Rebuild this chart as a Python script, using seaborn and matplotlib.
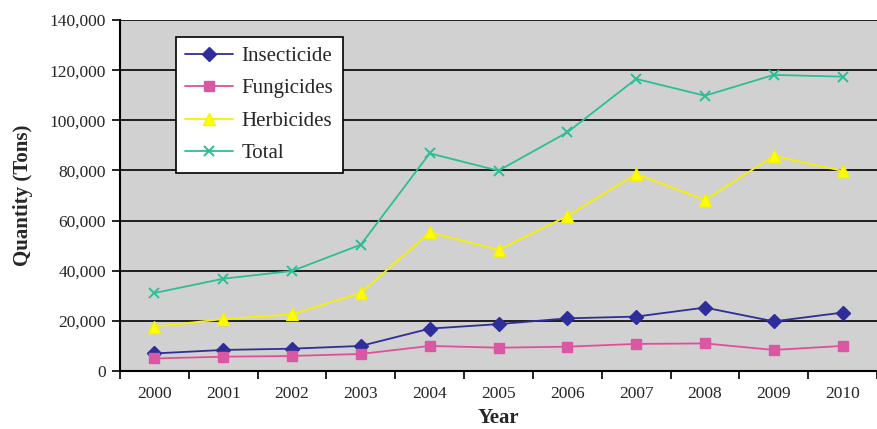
import matplotlib
matplotlib.use("Agg")
import matplotlib.pyplot as plt
from matplotlib.ticker import FuncFormatter, FixedLocator
import numpy as np
import pandas as pd
import seaborn as sns

# Pesticide imports by type, 2000-2010 (tons)
years = ["2000", "2001", "2002", "2003", "2004", "2005",
         "2006", "2007", "2008", "2009", "2010"]
insecticide = [7000, 8400, 8900, 10000, 16900, 18700, 21000, 21700, 25300, 19800, 23300]
fungicides = [5000, 5700, 6000, 6800, 10000, 9300, 9700, 10800, 11000, 8400, 10000]
herbicides = [17700, 20700, 22600, 31200, 55300, 48300, 61800, 78600, 68200, 85800, 79800]
total = [31100, 36800, 39900, 50400, 86800, 79900, 95200, 116500, 109800, 118100, 117400]

series_names = ["Insecticide", "Fungicides", "Herbicides", "Total"]
series_values = [insecticide, fungicides, herbicides, total]

df = pd.DataFrame({
    "pos": np.tile(np.arange(len(years)), len(series_names)),
    "year": years * len(series_names),
    "series": np.repeat(series_names, len(years)),
    "value": np.concatenate(series_values),
})

sns.set_style("white")
plt.rcParams["font.family"] = ["Liberation Serif", "DejaVu Serif"]

styles = {
    "Insecticide": dict(color="#2E2E9A", marker="D", ms=7, mfc="#2E2E9A", mec="#2E2E9A", mew=1.0),
    "Fungicides": dict(color="#E0509A", marker="s", ms=6.5, mfc="#D957A3", mec="#D957A3", mew=1.0),
    "Herbicides": dict(color="#F7F200", marker="^", ms=8.5, mfc="#FFFF00", mec="#F7F200", mew=1.0),
    "Total": dict(color="#2DBE95", marker="x", ms=7.5, mfc="#2DBE95", mec="#2DBE95", mew=1.4),
}

fig = plt.figure(figsize=(8.77, 4.29), dpi=100)
ax = fig.add_axes([120 / 877, 58 / 429, 757 / 877, 351 / 429])
ax.set_facecolor("#D1D1D1")

for name in series_names:
    st = styles[name]
    sub = df[df["series"] == name]
    sns.lineplot(data=sub, x="pos", y="value", ax=ax, color=st["color"],
                 marker=st["marker"], markersize=st["ms"], markerfacecolor=st["mfc"],
                 markeredgecolor=st["mec"], markeredgewidth=st["mew"],
                 linewidth=1.3, label=name, zorder=3)

ax.set_xlim(-0.5, len(years) - 0.5)
ax.set_ylim(0, 140000)

# value axis
ax.set_yticks(np.arange(0, 140001, 20000))
ax.yaxis.set_major_formatter(FuncFormatter(lambda v, p: f"{int(v):,}"))
ax.yaxis.grid(True, color="black", linewidth=1.2)
ax.set_axisbelow(True)
ax.tick_params(axis="y", which="major", length=6, width=1.2, color="black",
               direction="out", left=True, labelsize=12.5, pad=4)

# category axis: labels centred, tick marks between categories
ax.xaxis.set_major_locator(FixedLocator(np.arange(len(years))))
ax.set_xticklabels(years)
ax.xaxis.set_minor_locator(FixedLocator(np.arange(len(years) + 1) - 0.5))
ax.tick_params(axis="x", which="major", length=0, labelsize=12.5, pad=11)
ax.tick_params(axis="x", which="minor", length=6, width=1.2, color="black",
               direction="out", bottom=True)

for side in ["top", "right"]:
    ax.spines[side].set_visible(False)
for side in ["left", "bottom"]:
    ax.spines[side].set_color("black")
    ax.spines[side].set_linewidth(1.5)

ax.set_xlabel("Year", fontsize=15, fontweight="bold", labelpad=4)
ax.set_ylabel("Quantity (Tons)", fontsize=15, fontweight="bold", labelpad=12)

leg = ax.legend(loc="upper left", bbox_to_anchor=((176 - 120) / 757, (371 - 37) / 351),
                borderaxespad=0, frameon=True, fancybox=False, framealpha=1,
                facecolor="white", edgecolor="black", fontsize=15,
                handlelength=2.3, handletextpad=0.4, labelspacing=0.62,
                borderpad=0.45)
leg.get_frame().set_linewidth(1.2)
leg.set_zorder(5)

fig.savefig("out.png", dpi=100, facecolor="white")
